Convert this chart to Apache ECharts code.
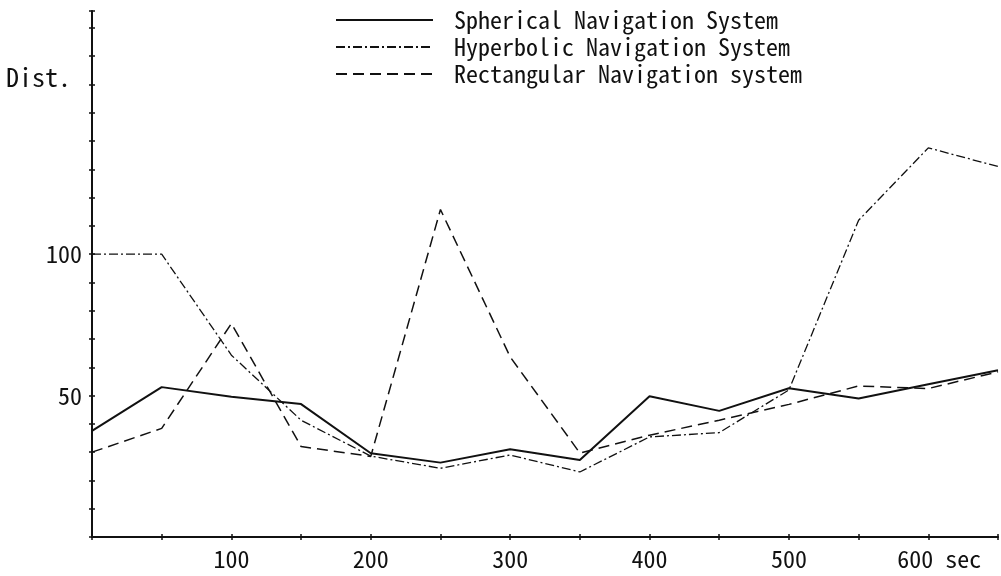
<!DOCTYPE html>
<html>
	<head>
		<meta charset="utf-8">
		<title>Navigation System Dist.</title>
		<style type="text/css">
			html, body{
				margin: 0;
				padding: 0;
				background: #fff;
			}
			#chart{
				width: 1001px;
				height: 576px;
			}
		</style>
	</head>
	<body>
		<div id="chart"></div>

		<script src="https://cdn.jsdelivr.net/npm/echarts@6/dist/echarts.min.js"></script>
		<script>
			// 数据
			var times = [0, 50, 100, 150, 200, 250, 300, 350, 400, 450, 500, 550, 600, 650];
			var spherical = [37.5, 53, 49.6, 47, 29.6, 26.3, 31, 27.2, 49.8, 44.6, 52.6, 49, 54, 59];
			var hyperbolic = [100, 100, 64.3, 41.3, 28.6, 24.3, 29, 23, 35.4, 36.9, 52, 112, 137.6, 131];
			var rectangular = [30, 38.4, 75.5, 32, 28.5, 115.8, 63.7, 29.7, 36, 41.3, 46.9, 53.4, 52.5, 58.4];
			var names = ['Spherical Navigation System', 'Hyperbolic Navigation System', 'Rectangular Navigation system'];
			var xLabels = [100, 200, 300, 400, 500, 600];
			var yLabels = [50, 100];

			var FONT = '"Noto Sans Mono CJK JP", "Liberation Mono", monospace';
			var INK = '#111';

			function pairs(vals){
				return times.map(function(t, i){ return [t, vals[i]]; });
			}

			var myChart = echarts.init(document.getElementById('chart'));

			var xBase = {
				type: 'value',
				min: 0,
				max: 650,
				interval: 50,
				position: 'bottom',
				splitLine: { show: false },
				axisLine: { show: true, lineStyle: { color: INK, width: 2 } },
				axisTick: { show: true, length: 3, lineStyle: { color: INK, width: 1.5 } }
			};
			var yBase = {
				type: 'value',
				min: 0,
				max: 186,
				interval: 10,
				position: 'left',
				splitLine: { show: false },
				axisLine: { show: true, lineStyle: { color: INK, width: 2 } },
				axisTick: { show: true, length: 3, lineStyle: { color: INK, width: 1.5 } }
			};

			var option = {
				animation: false,
				backgroundColor: '#fff',
				title: {
					text: 'Dist.',
					left: 6,
					top: 64,
					padding: 0,
					textStyle: { fontFamily: FONT, fontSize: 26, fontWeight: 'normal', color: INK }
				},
				legend: {
					data: names,
					orient: 'vertical',
					left: 335,
					top: 3,
					padding: 0,
					itemGap: -7,
					itemWidth: 97,
					itemHeight: 14,
					selectedMode: false,
					// 只留线条，不要圆点
					itemStyle: { opacity: 0 },
					textStyle: {
						fontFamily: FONT,
						fontSize: 24,
						color: INK,
						lineHeight: 24,
						padding: [0, 0, 10, 16]
					}
				},
				grid: {
					left: 92,
					top: 11,
					width: 910,
					height: 526
				},
				xAxis: [
					Object.assign({}, xBase, {
						axisTick: { show: true, length: 3, inside: false, lineStyle: { color: INK, width: 1.5 } },
						axisLabel: {
							fontFamily: FONT,
							fontSize: 24,
							color: INK,
							margin: 10,
							formatter: function(v){
								if(xLabels.indexOf(v) < 0){
									return '';
								}
								return v == 600 ? '{s|600 sec}' : String(v);
							},
							rich: {
								s: { fontFamily: FONT, fontSize: 24, color: INK, padding: [0, 0, 0, 22] }
							}
						}
					}),
					Object.assign({}, xBase, {
						axisLine: { show: false },
						axisTick: { show: true, length: 3, inside: true, lineStyle: { color: INK, width: 1.5 } },
						axisLabel: { show: false }
					})
				],
				yAxis: [
					Object.assign({}, yBase, {
						axisLabel: {
							fontFamily: FONT,
							fontSize: 24,
							color: INK,
							margin: 10,
							padding: [0, 0, 14, 0],
							formatter: function(v){
								return yLabels.indexOf(v) < 0 ? '' : String(v);
							}
						}
					}),
					Object.assign({}, yBase, {
						axisLine: { show: false },
						axisTick: { show: true, length: 3, inside: true, lineStyle: { color: INK, width: 1.5 } },
						axisLabel: { show: false }
					})
				],
				series: [{
					name: names[0],
					type: 'line',
					symbol: 'none',
					color: INK,
					lineStyle: { color: INK, width: 2 },
					data: pairs(spherical)
				}, {
					name: names[1],
					type: 'line',
					symbol: 'none',
					color: INK,
					lineStyle: { color: INK, width: 1.3, type: [9, 3, 2, 3] },
					data: pairs(hyperbolic)
				}, {
					name: names[2],
					type: 'line',
					symbol: 'none',
					color: INK,
					lineStyle: { color: INK, width: 1.5, type: [11, 6] },
					data: pairs(rectangular)
				}]
			};

			myChart.setOption(option);
		</script>
	</body>
</html>
